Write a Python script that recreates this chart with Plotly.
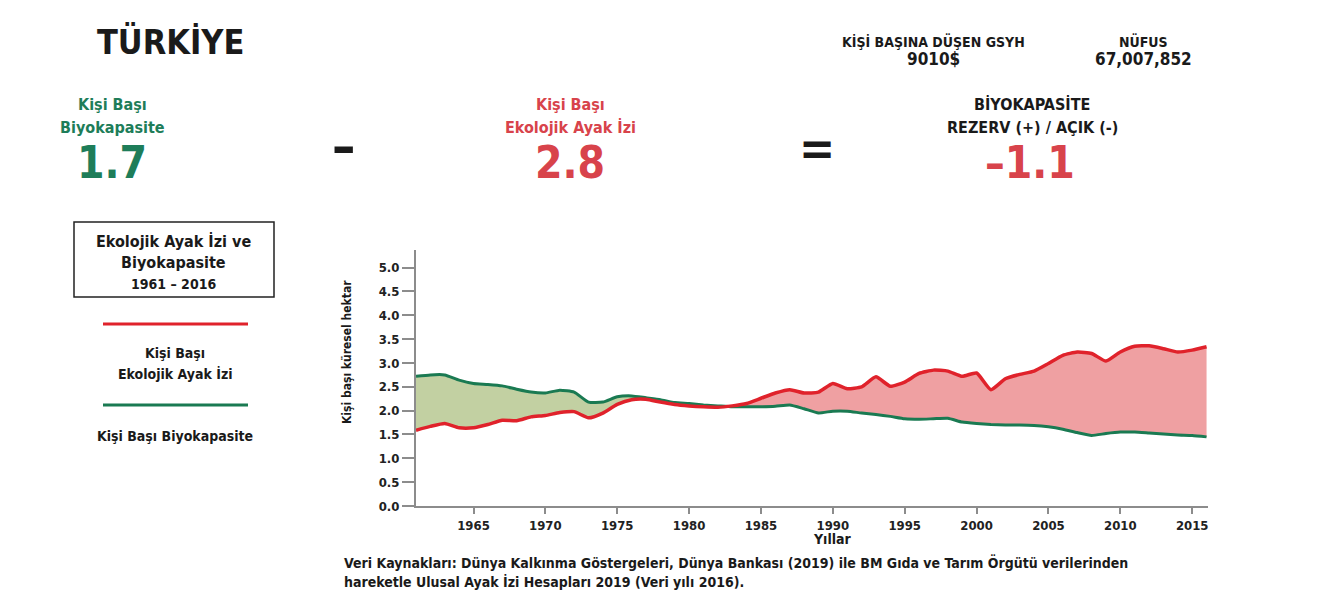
import plotly.graph_objects as go

years = list(range(1961, 2017))
footprint = [1.59, 1.67, 1.73, 1.64, 1.64, 1.71, 1.80, 1.79, 1.87, 1.90,
             1.96, 1.98, 1.85, 1.95, 2.13, 2.23, 2.24, 2.18, 2.13, 2.10,
             2.08, 2.07, 2.10, 2.15, 2.26, 2.37, 2.44, 2.37, 2.39, 2.57,
             2.46, 2.50, 2.71, 2.51, 2.60, 2.78, 2.85, 2.83, 2.72, 2.79,
             2.44, 2.67, 2.76, 2.83, 2.99, 3.16, 3.23, 3.20, 3.04, 3.23,
             3.35, 3.36, 3.30, 3.23, 3.27, 3.34]
biocapacity = [2.72, 2.75, 2.75, 2.64, 2.57, 2.55, 2.52, 2.45, 2.39, 2.37,
               2.43, 2.39, 2.18, 2.18, 2.29, 2.31, 2.27, 2.23, 2.17, 2.15,
               2.12, 2.10, 2.08, 2.08, 2.08, 2.09, 2.12, 2.04, 1.95, 1.99,
               1.99, 1.95, 1.92, 1.88, 1.83, 1.82, 1.83, 1.84, 1.76, 1.73,
               1.71, 1.70, 1.70, 1.69, 1.66, 1.61, 1.54, 1.48, 1.52, 1.55,
               1.55, 1.53, 1.51, 1.49, 1.48, 1.45]
y_ticks = [0, 0.5, 1, 1.5, 2, 2.5, 3, 3.5, 4, 4.5, 5]
x_ticks = [1965, 1970, 1975, 1980, 1985, 1990, 1995, 2000, 2005, 2010, 2015]

RED = "#e0222b"
GREEN = "#1a7a52"
RED_FILL = "#efa0a2"
GREEN_FILL = "#c2d0a2"
TXT_RED = "#d8434b"
TXT_GREEN = "#1e7d59"
DARK = "#1a1a1a"
FONT = "Liberation Sans Narrow, DejaVu Sans Condensed, Arial Narrow, sans-serif"

W, H = 1328, 599
L, R, T, B = 416, 1208, 250, 506


def px(x):
    return (x - L) / (R - L)


def py(y):
    return (B - y) / (B - T)


# split into segments where the sign of (biocapacity - footprint) is constant
segs = []
cx, cb, cf = [years[0]], [biocapacity[0]], [footprint[0]]
sign = biocapacity[0] >= footprint[0]
for i in range(1, len(years)):
    d0 = biocapacity[i - 1] - footprint[i - 1]
    d1 = biocapacity[i] - footprint[i]
    s1 = d1 >= 0
    if s1 != sign:
        t = d0 / (d0 - d1)
        xc = years[i - 1] + t * (years[i] - years[i - 1])
        yc = biocapacity[i - 1] + t * (biocapacity[i] - biocapacity[i - 1])
        cx.append(xc); cb.append(yc); cf.append(yc)
        segs.append((sign, cx, cb, cf))
        cx, cb, cf = [xc], [yc], [yc]
        sign = s1
    cx.append(years[i]); cb.append(biocapacity[i]); cf.append(footprint[i])
segs.append((sign, cx, cb, cf))

fig = go.Figure()
for s, xs, bs, fs in segs:
    fig.add_trace(go.Scatter(
        x=xs + xs[::-1], y=bs + fs[::-1], fill="toself",
        fillcolor=GREEN_FILL if s else RED_FILL,
        line=dict(width=0), mode="lines", hoverinfo="skip", showlegend=False))

fig.add_trace(go.Scatter(x=years, y=biocapacity, mode="lines",
                         line=dict(color=GREEN, width=3, shape="spline", smoothing=0.5),
                         showlegend=False))
fig.add_trace(go.Scatter(x=years, y=footprint, mode="lines",
                         line=dict(color=RED, width=3.5, shape="spline", smoothing=0.5),
                         showlegend=False))

axis_common = dict(showgrid=False, zeroline=False, showline=True,
                   linecolor="#8c8c8c", linewidth=2, ticks="outside",
                   tickcolor="#8c8c8c", tickwidth=2,
                   tickfont=dict(family=FONT, size=13, color="#222", weight="bold"))

fig.update_xaxes(range=[1961, 2016.1], tickvals=x_ticks, ticklen=6, **axis_common)
fig.update_yaxes(range=[0, 5.37], tickvals=y_ticks, tickformat=".1f", ticklen=12,
                 **axis_common)

ann = []


def text(x, y, s, size, color=DARK, bold=True, xanchor="center", align="center"):
    ann.append(dict(x=px(x), y=py(y), xref="paper", yref="paper", text=s,
                    showarrow=False, xanchor=xanchor, yanchor="middle", align=align,
                    font=dict(family=FONT, size=size, color=color,
                              weight="bold" if bold else "normal")))


text(170, 42, "TÜRKİYE", 34)
text(933, 41, "KİŞİ BAŞINA DÜŞEN GSYH", 14)
text(933, 59, "9010$", 17)
text(1143, 41, "NÜFUS", 14)
text(1143, 59, "67,007,852", 17)
text(112, 104, "Kişi Başı", 16, TXT_GREEN)
text(112, 127, "Biyokapasite", 16, TXT_GREEN)
text(112, 162, "1.7", 44, TXT_GREEN)
text(343, 146, "–", 52)
text(570, 104, "Kişi Başı", 16, TXT_RED)
text(570, 127, "Ekolojik Ayak İzi", 16, TXT_RED)
text(570, 162, "2.8", 44, TXT_RED)
text(817, 148, "=", 48)
text(1032, 104, "BİYOKAPASİTE", 16)
text(1032, 127, "REZERV (+) / AÇIK (-)", 16)
text(1030, 162, "–1.1", 44, TXT_RED)
text(174, 241, "Ekolojik Ayak İzi ve", 16)
text(174, 262, "Biyokapasite", 16)
text(174, 284, "1961 – 2016", 14)
text(175, 353, "Kişi Başı", 14)
text(175, 374, "Ekolojik Ayak İzi", 14)
text(175, 436, "Kişi Başı Biyokapasite", 14)
text(832, 539, "Yıllar", 14)
text(342, 562, "Veri Kaynakları: Dünya Kalkınma Göstergeleri, Dünya Bankası (2019) ile BM Gıda ve Tarım Örgütü verilerinden",
     14, xanchor="left", align="left")
text(342, 582, "hareketle Ulusal Ayak İzi Hesapları 2019 (Veri yılı 2016).", 14, xanchor="left", align="left")
ann.append(dict(x=px(347), y=py(352), xref="paper", yref="paper",
                text="Kişi başı küresel hektar", textangle=-90, showarrow=False,
                xanchor="center", yanchor="middle",
                font=dict(family=FONT, size=12, color=DARK, weight="bold")))

shapes = [
    dict(type="rect", xref="paper", yref="paper", x0=px(74), x1=px(274), y0=py(222), y1=py(297),
         line=dict(color="#222", width=1.5)),
    dict(type="line", xref="paper", yref="paper", x0=px(103), x1=px(248), y0=py(324), y1=py(324),
         line=dict(color=RED, width=3)),
    dict(type="line", xref="paper", yref="paper", x0=px(103), x1=px(248), y0=py(405), y1=py(405),
         line=dict(color=GREEN, width=3)),
]

fig.update_layout(
    width=W, height=H, autosize=False,
    margin=dict(l=L, r=W - R, t=T, b=H - B),
    paper_bgcolor="white", plot_bgcolor="white",
    annotations=ann, shapes=shapes, showlegend=False,
)

fig.write_html("out.html")
